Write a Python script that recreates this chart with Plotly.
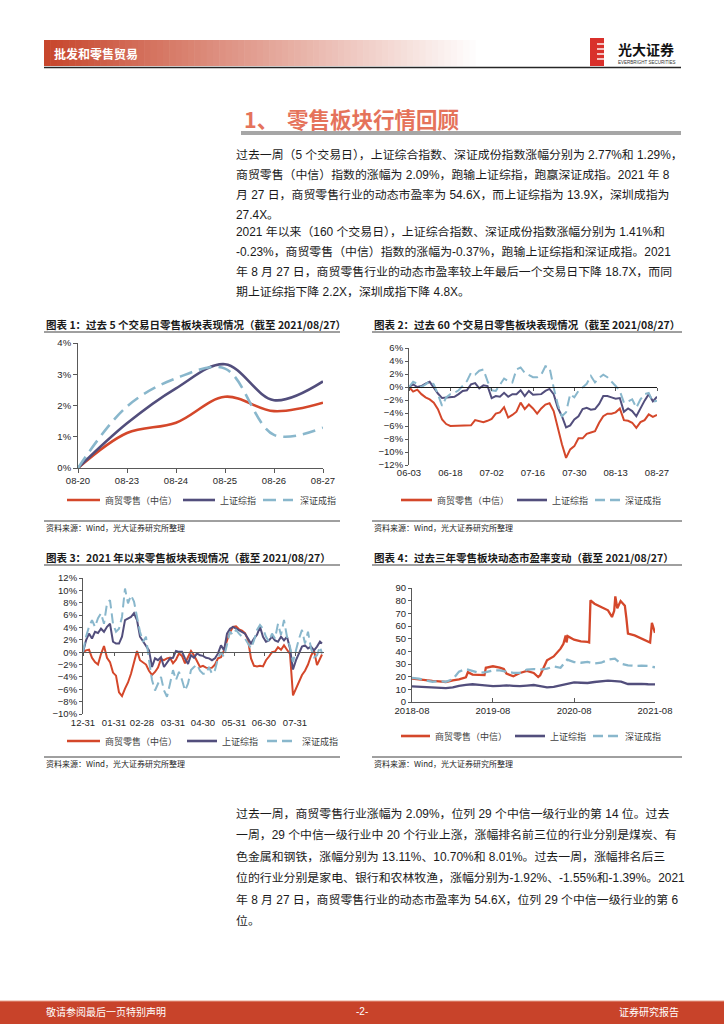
import plotly.graph_objects as go
import pandas as pd

W, H = 724, 1024


def fx(p):
    return p / W


def fy(p):
    return 1 - p / H


RED, NAVY, SKY = "#D4472A", "#524E7C", "#89B7CC"
SERIES = ["商贸零售（中信）", "上证综指", "深证成指"]
FONT = "Liberation Sans, Noto Sans CJK SC, sans-serif"
CJK = "Noto Sans CJK SC, sans-serif"

# ---------------- data ----------------
# Chart 1: last 5 trading days (%)
c1_days = ["08-20", "08-23", "08-24", "08-25", "08-26", "08-27"]
c1_retail = [0, 1.12, 1.45, 2.28, 1.82, 2.09]
c1_sh = [0, 1.43, 2.55, 3.32, 2.17, 2.77]
c1_sz = [0, 1.97, 2.87, 3.18, 1.06, 1.29]

# Chart 2: last 60 trading days (%)
c2_days = ["06-03", "06-04", "06-07", "06-08", "06-09", "06-10", "06-11", "06-15", "06-16", "06-17",
           "06-18", "06-21", "06-22", "06-23", "06-24", "06-25", "06-28", "06-29", "06-30", "07-01",
           "07-02", "07-05", "07-06", "07-07", "07-08", "07-09", "07-12", "07-13", "07-14", "07-15",
           "07-16", "07-19", "07-20", "07-21", "07-22", "07-23", "07-26", "07-27", "07-28", "07-29",
           "07-30", "08-02", "08-03", "08-04", "08-05", "08-06", "08-09", "08-10", "08-11", "08-12",
           "08-13", "08-16", "08-17", "08-18", "08-19", "08-20", "08-23", "08-24", "08-25", "08-26",
           "08-27"]
c2_ticks = ["06-03", "06-18", "07-02", "07-16", "07-30", "08-13", "08-27"]
c2_retail = [0, -0.7, -0.4, -1.1, -1.6, -1.9, -2.4, -3.4, -5.0, -5.7,
             -6.0, -6.0, -5.9, -6.0, -5.9, -5.9, -5.1, -5.3, -5.4, -5.2,
             -4.9, -4.1, -3.9, -3.1, -4.7, -4.3, -3.8, -2.4, -3.4, -2.7,
             -3.3, -4.1, -3.3, -2.7, -2.5, -3.7, -6.3, -8.8, -10.9, -9.6,
             -9.1, -7.9, -7.9, -7.2, -7.0, -6.8, -5.5, -4.5, -4.1, -4.1,
             -3.9, -3.3, -5.1, -5.2, -5.5, -6.3, -5.4, -5.1, -4.2, -4.6,
             -4.3]
c2_sh = [0, 0.4, 0, 0.15, 0.5, 0.8, -0.1, -1.0, -1.7, -1.6,
         -1.6, -1.5, -1.1, -0.6, -0.5, 0.4, 0.6, -0.2, 0.25, 0.15,
         -1.7, -1.4, -1.5, -0.9, -1.5, -1.1, -1.1, -0.5, -1.4, -0.6,
         -1.2, -1.1, -1.1, -0.6, -0.3, -1.1, -3.2, -4.5, -6.2, -5.9,
         -5.0, -4.5, -3.4, -3.2, -3.5, -3.4, -2.6, -1.4, -1.4, -1.6,
         -1.8, -1.7, -3.8, -3.3, -3.7, -4.5, -3.2, -2.1, -1.1, -2.2,
         -1.5]
c2_sz = [0, 0.8, 0.5, 0, 0.4, 0.9, 0.4, -1.1, -2.9, -1.6,
         -1.1, -0.9, -0.5, 0.25, 0.9, 2.2, 1.9, 2.5, 2.7, 0.9,
         -0.5, -0.6, 0.4, 1.3, 0.9, 0.7, 2.7, 3.0, 2.2, 1.9,
         1.5, 1.5, 1.9, 3.2, 3.0, -0.1, -2.7, -4.5, -3.9, -1.1,
         -1.6, -0.6, -0.1, 0.5, 1.7, 0.7, 1.4, 1.9, 1.5, 0.9,
         0.15, -0.6, -2.4, -2.2, -1.9, -3.2, -1.9, -1.1, -0.9, -2.3,
         -2.1]

# Chart 3: year to date (%), read every third calendar day
c3_dates = [(pd.Timestamp("2020-12-31") + pd.Timedelta(days=3 * i)).strftime("%Y-%m-%d")
            for i in range(80)] + ["2021-08-27"]
c3_tickvals = ["2020-12-31", "2021-01-31", "2021-02-28", "2021-03-31", "2021-04-30",
               "2021-05-31", "2021-06-30", "2021-07-31"]
c3_ticktext = ["12-31", "01-31", "02-28", "03-31", "04-30", "05-31", "06-30", "07-31"]
c3_retail = [0, 0.3, 0.4, -0.9, -1.6, -2.0, -0.3, 1.0, -0.9, -1.6,
             -3.3, -3.8, -6.5, -7.1, -5.9, -4.9, -3.5, -1.8, 0.2, -1.3,
             -1.7, -2.0, -3.0, -3.7, -3.2, -2.5, -1.1, -1.3, -1.0, -0.9,
             -1.8, -1.2, -0.2, -0.6, -1.8, -0.9, 0.2, -0.5, -1.5, -2.4,
             -2.2, -2.5, -2.6, -2.5, -2.0, -1.0, -0.8, 0.3, 1.9, 3.2,
             4.1, 4.2, 3.7, 3.5, 3.1, 2.0, -1.0, -2.2, -2.3, -2.2,
             -2.3, -1.3, -0.7, 0.0, 0.1, 0.8, 0.4, 1.1, 0.4, -0.3,
             -7.0, -5.8, -4.8, -3.7, -3.0, -2.0, -0.6, 0.3, -2.1, -1.2,
             -0.37]
c3_sh = [0, 1.9, 3.0, 2.2, 3.3, 3.1, 3.8, 3.3, 4.1, 4.6,
         1.7, 1.4, 1.4, 2.5, 5.2, 5.5, 5.7, 6.3, 5.2, 2.5,
         1.7, 0.9, 0.3, -2.4, -1.0, -1.3, -0.8, -2.4, -1.6, -1.0,
         -0.9, 0.2, 0.05, 0.05, -1.0, -1.9, -0.5, -0.9, -0.2, -0.5,
         -0.6, -0.9, -1.0, -1.3, -1.0, -0.2, 1.1, 0.3, 3.0, 3.8,
         4.1, 3.8, 3.6, 3.3, 3.0, 2.2, 1.4, 2.2, 2.8, 4.1,
         2.5, 1.7, 1.9, 2.5, 1.9, 1.7, 2.5, 1.9, 2.5, 0.6,
         -2.8, -1.3, -0.2, 0.9, 1.1, 0.6, 0.9, 0.3, 0.9, 1.7,
         1.41]
c3_sz = [0, 2.5, 4.1, 5.2, 4.1, 5.5, 6.3, 4.6, 7.9, 8.4,
         4.6, 3.3, 3.8, 5.7, 10.3, 7.9, 9.2, 8.2, 5.7, 3.3,
         1.7, 2.5, -1.3, -4.5, -6.2, -5.1, -4.0, -6.2, -7.2, -5.1,
         -2.9, -4.5, -3.2, -4.5, -6.2, -5.1, -2.9, -2.4, -2.0, -3.0,
         -3.5, -3.5, -2.4, -3.5, -2.9, -1.0, 0.0, -0.8, 1.4, 3.3,
         2.8, 3.6, 3.0, 2.5, 2.2, 1.4, 0.6, 1.9, 3.6, 4.4,
         3.8, 2.5, 1.7, 3.0, 2.2, 4.6, 2.8, 5.2, 2.5, 0.9,
         -1.6, 0.3, 2.2, 3.6, 1.4, 3.3, 0.6, -0.8, -0.5, 0.9,
         -0.23]

# Chart 4: dynamic P/E, last three years
c4_month_dates = [(pd.Timestamp("2018-08-27") + pd.DateOffset(months=k)).strftime("%Y-%m-%d")
                  for k in range(37)]
c4_tickvals = ["2018-08-27", "2019-08-27", "2020-08-27", "2021-08-27"]
c4_ticktext = ["2018-08", "2019-08", "2020-08", "2021-08"]
c4_retail_dates = ["2018-08-27", "2018-09-27", "2018-10-27", "2018-11-27", "2018-12-27", "2019-01-27",
                   "2019-02-27", "2019-03-27", "2019-04-27", "2019-05-06", "2019-05-27", "2019-06-27",
                   "2019-07-20", "2019-07-26", "2019-08-27", "2019-09-27", "2019-10-15", "2019-10-27",
                   "2019-11-27", "2019-12-27", "2020-01-27", "2020-02-27", "2020-03-18", "2020-03-27",
                   "2020-04-27", "2020-05-27", "2020-06-27", "2020-07-10", "2020-07-20", "2020-07-24",
                   "2020-07-29", "2020-08-27", "2020-09-27", "2020-10-27", "2020-11-03", "2020-11-09",
                   "2020-11-27", "2020-12-27", "2021-01-27", "2021-02-14", "2021-02-24", "2021-03-01",
                   "2021-03-10", "2021-03-25", "2021-04-13", "2021-04-20", "2021-04-27", "2021-05-27",
                   "2021-06-27", "2021-07-27", "2021-08-05", "2021-08-13", "2021-08-27"]
c4_retail = [18.4, 17.6, 17.1, 16.6, 16.3, 15.8, 17.1, 17.9, 19.5, 23.5,
             21.6, 21.6, 21.2, 27.0, 28.2, 27.1, 26.0, 22.4, 20.3, 22.9,
             24.5, 22.9, 19.7, 21.1, 32.9, 36.0, 42.1, 46.0, 52.5, 47.0,
             52.0, 49.2, 47.9, 47.4, 47.0, 80.3, 77.6, 75.0, 72.4, 67.1,
             72.0, 83.4, 74.0, 79.7, 76.0, 66.0, 54.0, 52.6, 50.0, 47.4,
             47.0, 62.4, 54.6]
c4_sh = [12.3, 12.0, 11.8, 11.5, 11.3, 11.0, 11.5, 12.8, 13.5, 14.0,
         13.5, 13.0, 12.5, 12.8, 13.2, 12.8, 12.5, 13.0, 13.4, 12.5,
         11.5, 12.0, 13.0, 14.5, 15.5, 15.2, 15.0, 15.8, 16.2, 16.8,
         16.5, 16.0, 14.2, 14.5, 14.3, 14.0, 13.9]
c4_sz = [19.0, 18.5, 17.0, 16.0, 16.5, 16.0, 18.0, 24.0, 26.0, 24.5,
         23.0, 23.5, 25.0, 25.0, 24.0, 23.0, 23.0, 25.5, 26.0, 25.5,
         26.3, 28.0, 27.0, 33.4, 31.5, 31.0, 31.6, 30.5, 31.0, 33.4,
         34.2, 30.3, 29.0, 28.5, 28.7, 28.5, 27.4]

# ---------------- text ----------------
para1 = ["过去一周（5 个交易日），上证综合指数、深证成份指数涨幅分别为 2.77%和 1.29%，",
         "商贸零售（中信）指数的涨幅为 2.09%，跑输上证综指，跑赢深证成指。2021 年 8",
         "月 27 日，商贸零售行业的动态市盈率为 54.6X，而上证综指为 13.9X，深圳成指为",
         "27.4X。"]
para2 = ["2021 年以来（160 个交易日），上证综合指数、深证成份指数涨幅分别为 1.41%和",
         "-0.23%，商贸零售（中信）指数的涨幅为-0.37%，跑输上证综指和深证成指。2021",
         "年 8 月 27 日，商贸零售行业的动态市盈率较上年最后一个交易日下降 18.7X，而同",
         "期上证综指下降 2.2X，深圳成指下降 4.8X。"]
para3 = ["过去一周，商贸零售行业涨幅为 2.09%，位列 29 个中信一级行业的第 14 位。过去",
         "一周，29 个中信一级行业中 20 个行业上涨，涨幅排名前三位的行业分别是煤炭、有",
         "色金属和钢铁，涨幅分别为 13.11%、10.70%和 8.01%。过去一周，涨幅排名后三",
         "位的行业分别是家电、银行和农林牧渔，涨幅分别为-1.92%、-1.55%和-1.39%。2021",
         "年 8 月 27 日，商贸零售行业的动态市盈率为 54.6X，位列 29 个中信一级行业的第 6",
         "位。"]
titles = ["图表 1：过去 5 个交易日零售板块表现情况（截至 2021/08/27）",
          "图表 2：过去 60 个交易日零售板块表现情况（截至 2021/08/27）",
          "图表 3：2021 年以来零售板块表现情况（截至 2021/08/27）",
          "图表 4：过去三年零售板块动态市盈率变动（截至 2021/08/27）"]
source = "资料来源：Wind，光大证券研究所整理"

# ---------------- figure ----------------
fig = go.Figure()


def add(x, y, color, dash, width, k, name, shape="linear"):
    sfx = "" if k == 1 else str(k)
    fig.add_trace(go.Scatter(
        x=x, y=y, mode="lines", name=name, showlegend=False,
        line=dict(color=color, width=width, dash=dash, shape=shape),
        xaxis="x" + sfx, yaxis="y" + sfx, hoverinfo="skip"))


DASH1 = "13px,7px"
DASH = "10px,5px"
add(c1_days, c1_retail, RED, "solid", 2.6, 1, SERIES[0], "spline")
add(c1_days, c1_sh, NAVY, "solid", 2.6, 1, SERIES[1], "spline")
add(c1_days, c1_sz, SKY, DASH1, 2.6, 1, SERIES[2], "spline")

add(c2_days, c2_retail, RED, "solid", 2.0, 2, SERIES[0])
add(c2_days, c2_sh, NAVY, "solid", 2.0, 2, SERIES[1])
add(c2_days, c2_sz, SKY, DASH, 2.0, 2, SERIES[2])

add(c3_dates, c3_retail, RED, "solid", 2.0, 3, SERIES[0])
add(c3_dates, c3_sh, NAVY, "solid", 2.0, 3, SERIES[1])
add(c3_dates, c3_sz, SKY, DASH, 2.0, 3, SERIES[2])

add(c4_retail_dates, c4_retail, RED, "solid", 2.3, 4, SERIES[0])
add(c4_month_dates, c4_sh, NAVY, "solid", 2.3, 4, SERIES[1])
add(c4_month_dates, c4_sz, SKY, DASH, 2.3, 4, SERIES[2])

AX = dict(showline=True, linecolor="#595959", linewidth=1, ticks="outside", ticklen=3,
          tickcolor="#595959", tickfont=dict(size=9.5, color="#262626", family=FONT),
          showgrid=False, zeroline=False, fixedrange=True, tickangle=0, automargin=False)


def dom_x(a, b):
    return [fx(a), fx(b)]


def dom_y(top, bottom):
    return [fy(bottom), fy(top)]


# plot areas (pixels)
P1 = (78, 323, 343, 468)
P2 = (409, 657, 348, 465)
P3 = (83, 324, 578, 714)
P4 = (412, 655, 588, 702)


def zero_pos(P, lo, hi):
    top, bottom = fy(P[2]), fy(P[3])
    return bottom + (0 - lo) / (hi - lo) * (top - bottom)


lay = dict(
    width=W, height=H, margin=dict(l=0, r=0, t=0, b=0, autoexpand=False),
    paper_bgcolor="white", plot_bgcolor="white", hovermode=False, showlegend=False,
    xaxis=dict(AX, type="category", range=[0, 5], domain=dom_x(P1[0], P1[1]), anchor="y",
               ticklen=4),
    yaxis=dict(AX, range=[0, 4], dtick=1, ticksuffix="%", domain=dom_y(P1[2], P1[3]), anchor="x",
               ticklen=4),
    xaxis2=dict(AX, type="category", range=[0, 60], domain=dom_x(P2[0], P2[1]), anchor="free",
                position=zero_pos(P2, -12, 6), tickvals=c2_ticks, ticktext=c2_ticks,
                linecolor="#1a1a1a", ticklabelstandoff=74),
    yaxis2=dict(AX, range=[-12, 6], dtick=2, ticksuffix="%", domain=dom_y(P2[2], P2[3]), anchor="x2"),
    xaxis3=dict(AX, type="date", range=["2020-12-31", "2021-08-29"], domain=dom_x(P3[0], P3[1]),
                anchor="free", position=zero_pos(P3, -10, 12), tickvals=c3_tickvals,
                ticktext=c3_ticktext, ticklabelstandoff=58),
    yaxis3=dict(AX, range=[-10, 12], dtick=2, ticksuffix="%", domain=dom_y(P3[2], P3[3]), anchor="x3"),
    xaxis4=dict(AX, type="date", range=["2018-08-27", "2021-08-27"], domain=dom_x(P4[0], P4[1]),
                anchor="y4", tickvals=c4_tickvals, ticktext=c4_ticktext, ticks="inside", ticklen=4),
    yaxis4=dict(AX, range=[0, 90], dtick=10, domain=dom_y(P4[2], P4[3]), anchor="x4"),
)

shapes = []
annos = []


def hline(x0, x1, y, color, width, dash="solid"):
    shapes.append(dict(type="line", xref="paper", yref="paper", x0=fx(x0), x1=fx(x1),
                       y0=fy(y), y1=fy(y), line=dict(color=color, width=width, dash=dash)))


def rect(x0, y0, x1, y1, fill):
    shapes.append(dict(type="rect", xref="paper", yref="paper", x0=fx(x0), x1=fx(x1),
                       y0=fy(y1), y1=fy(y0), fillcolor=fill, line=dict(width=0), layer="below"))


def txt(x, y, s, size, color="#1a1a1a", bold=False, anchor="left", family=FONT):
    annos.append(dict(x=fx(x), y=fy(y), xref="paper", yref="paper", showarrow=False,
                      text=("<b>%s</b>" % s) if bold else s, xanchor=anchor, yanchor="middle",
                      font=dict(size=size, color=color, family=family)))


# header gradient banner
n = 70
x0, x1 = 44, 482
c0 = (199, 70, 44)
for i in range(n):
    t = i / (n - 1)
    col = tuple(int(round(c0[j] + (255 - c0[j]) * t)) for j in range(3))
    a = x0 + (x1 - x0) * i / n
    b = x0 + (x1 - x0) * (i + 1) / n + 0.6
    rect(a, 40, b, 66, "rgb(%d,%d,%d)" % col)
txt(52, 53, "批发和零售贸易", 12, "white", True, family=CJK)
hline(44, 681, 67.5, "#262626", 1.5)

# logo
rect(590, 38, 604, 66, "#D9302B")
for yy in (44, 49, 54, 59):
    hline(597, 604, yy, "white", 1.4)
txt(616, 49, "光大证券", 14, "#111111", True, family=CJK)
txt(616, 62, "EVERBRIGHT SECURITIES", 4.5, "#333333", family=FONT)

# section title
txt(242, 118, "1、", 21.5, "#E5735B", True, family=CJK)
txt(285, 118, "零售板块行情回顾", 21.5, "#E5735B", True, family=CJK)
rect(241, 131, 681, 135, "#A6A6A6")

# paragraphs
BODY = 11.9
for i, s in enumerate(para1):
    txt(234, 155 + 20 * i, s, BODY)
for i, s in enumerate(para2):
    txt(234, 232 + 20 * i, s, BODY)
for i, s in enumerate(para3):
    txt(234, 814 + 21.4 * i, s, BODY)

# chart titles / rules / sources
blocks = [(44, 340, 324, 521, 0), (372, 682, 324, 521, 1), (44, 340, 557, 757, 2), (372, 682, 557, 757, 3)]
for lx, rx, ty, sy, k in blocks:
    txt(lx, ty, titles[k], 10.5, "#1a1a1a", True, family=CJK)
    hline(lx, rx, ty + 8, "#404040", 1)
    hline(lx, rx, sy, "#404040", 1)
    txt(lx, sy + 6, source, 8, "#262626", family=CJK)

# legends (drawn as key lines + labels)
legend_rows = [
    (500, [(67, 100, 103), (183, 215, 218), (263, 293, 298)], DASH1, 2.6),
    (500, [(401, 432, 435), (517, 547, 550), (595, 620, 623)], DASH, 2.6),
    (741, [(67, 100, 103), (187, 217, 220), (267, 297, 300)], DASH, 2.6),
    (736, [(401, 430, 433), (515, 545, 548), (593, 620, 623)], DASH, 2.6),
]
for ly, items, dsh, lw in legend_rows:
    for (a, b, t), col, name, d in zip(items, [RED, NAVY, SKY], SERIES, ["solid", "solid", dsh]):
        hline(a, b, ly, col, lw, d)
        txt(t, ly, name, 9, "#404040", family=CJK)

# footer
rect(0, 1001, W, 1024, "#C8432A")
hline(0, W, 1001, "#E7A08C", 1)
txt(44, 1011, "敬请参阅最后一页特别声明", 10, "white", family=CJK)
txt(362, 1011, "-2-", 10, "white", anchor="center", family=FONT)
txt(681, 1011, "证券研究报告", 10, "white", anchor="right", family=CJK)

lay["shapes"] = shapes
lay["annotations"] = annos
fig.update_layout(**lay)

fig.write_html("out.html", config={"displayModeBar": False, "staticPlot": True},
               post_script="document.body.style.margin='0';document.body.style.overflow='hidden';")
